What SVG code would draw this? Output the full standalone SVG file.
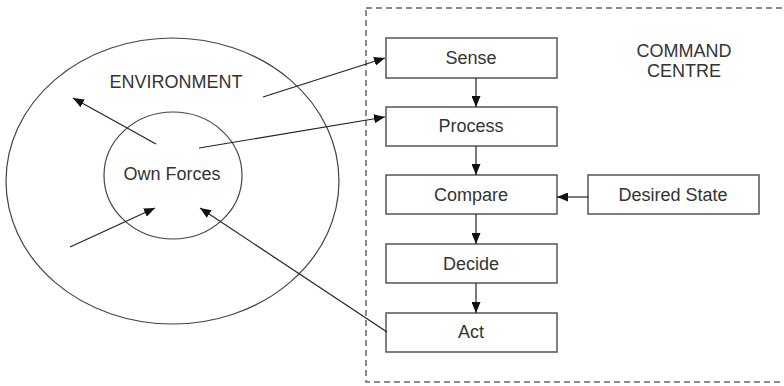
<svg xmlns="http://www.w3.org/2000/svg" width="784" height="386" viewBox="0 0 784 386">
<defs>
<marker id="ah" viewBox="0 0 11 9" refX="11" refY="4.5" markerWidth="11" markerHeight="9" markerUnits="userSpaceOnUse" orient="auto">
<path d="M0,0 L11,4.5 L0,9 Z" fill="#111"/>
</marker>
</defs>
<style>
.box{fill:#fff;stroke:#555;stroke-width:1.5}
.t{font-family:"Liberation Sans",Arial,sans-serif;font-size:18px;fill:#333;text-anchor:middle}
.c{stroke:#222;stroke-width:1.2;fill:none;marker-end:url(#ah)}
</style>
<rect width="784" height="386" fill="#fff"/>
<g id="command-centre">
<rect x="366" y="8" width="430" height="374" fill="none" stroke="#666" stroke-width="1.5" stroke-dasharray="6 4"/>
<text class="t" x="684" y="57">COMMAND</text>
<text class="t" x="684" y="77">CENTRE</text>
</g>
<g id="environment">
<ellipse cx="172.5" cy="181" rx="166.5" ry="143" fill="none" stroke="#444" stroke-width="1.2"/>
<text class="t" x="176" y="88">ENVIRONMENT</text>
</g>
<g id="own-forces">
<ellipse cx="173" cy="175.5" rx="69" ry="63.5" fill="none" stroke="#444" stroke-width="1.2"/>
<text class="t" x="172" y="180">Own Forces</text>
</g>
<g id="sense"><rect class="box" x="386" y="38" width="171" height="40"/><text class="t" x="471" y="64">Sense</text></g>
<g id="process"><rect class="box" x="386" y="107" width="171" height="39"/><text class="t" x="471" y="132">Process</text></g>
<g id="compare"><rect class="box" x="386" y="175" width="171" height="39"/><text class="t" x="471" y="201">Compare</text></g>
<g id="decide"><rect class="box" x="386" y="244" width="171" height="39"/><text class="t" x="471" y="270">Decide</text></g>
<g id="act"><rect class="box" x="386" y="313" width="171" height="39"/><text class="t" x="471" y="338">Act</text></g>
<g id="desired-state"><rect class="box" x="588" y="175" width="171" height="39"/><text class="t" x="673" y="201">Desired State</text></g>
<g id="connectors">
<line class="c" x1="263" y1="97" x2="385" y2="58"/>
<line class="c" x1="199" y1="148" x2="385" y2="117"/>
<line class="c" x1="156" y1="144" x2="73" y2="98"/>
<line class="c" x1="70" y1="247" x2="155" y2="208"/>
<line class="c" x1="387" y1="332" x2="200" y2="208"/>
<line class="c" x1="476" y1="78" x2="476" y2="107"/>
<line class="c" x1="476" y1="146" x2="476" y2="175"/>
<line class="c" x1="476" y1="214" x2="476" y2="244"/>
<line class="c" x1="476" y1="283" x2="476" y2="313"/>
<line class="c" x1="588" y1="197" x2="557" y2="197"/>
</g>
</svg>
